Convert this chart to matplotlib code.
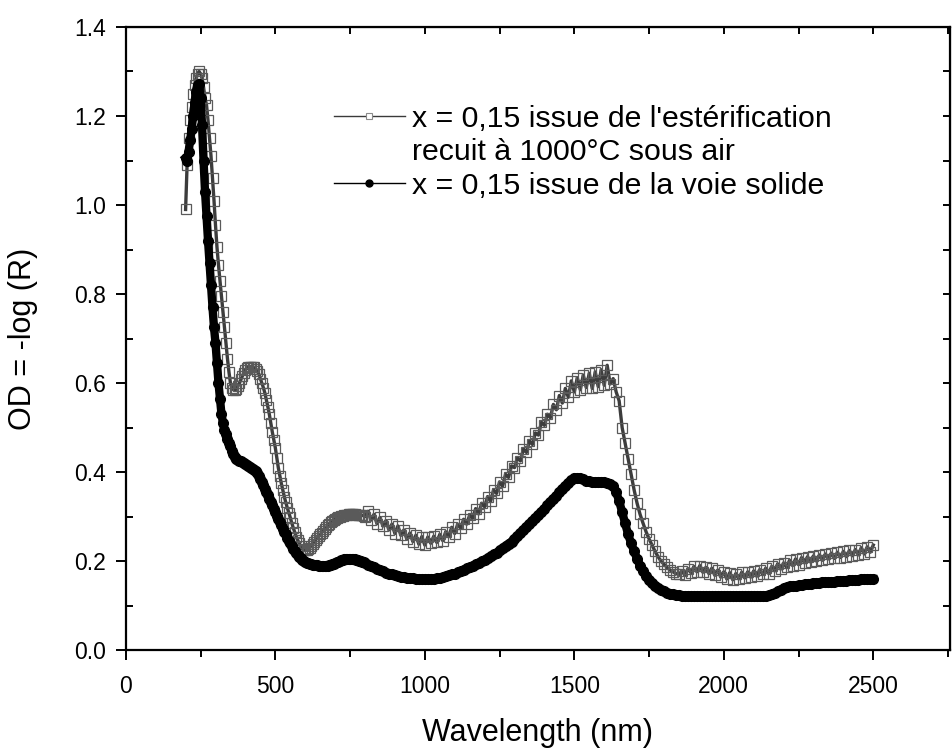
import matplotlib
matplotlib.use('Agg')
import matplotlib.pyplot as plt
from matplotlib.lines import Line2D
import numpy as np

plt.rcParams['font.family'] = ['Liberation Sans', 'DejaVu Sans']

# longueurs d'onde (nm) : pas de 5 nm jusqu'a 800, puis 10 nm
wavelength = np.concatenate([np.arange(200, 800, 5), np.arange(800, 2501, 10)])

# x = 0,15 issue de l'esterification, recuit a 1000 C sous air (carres)
od_ester = [
    0.99, 1.09, 1.15, 1.19, 1.22, 1.25, 1.27, 1.285, 1.295, 1.30,
    1.295, 1.285, 1.265, 1.24, 1.225, 1.19, 1.15, 1.11, 1.06, 1.01,
    0.955, 0.905, 0.865, 0.83, 0.795, 0.76, 0.725, 0.69, 0.655, 0.625,
    0.60, 0.59, 0.585, 0.584, 0.587, 0.593, 0.60, 0.608, 0.616, 0.623,
    0.629, 0.633, 0.636, 0.637, 0.637, 0.636, 0.635, 0.632, 0.627, 0.62,
    0.61, 0.60, 0.59, 0.578, 0.563, 0.547, 0.53, 0.51, 0.49, 0.472,
    0.455, 0.432, 0.41, 0.392, 0.375, 0.36, 0.345, 0.332, 0.32, 0.309,
    0.298, 0.286, 0.275, 0.265, 0.255, 0.247, 0.24, 0.234, 0.228, 0.225,
    0.224, 0.225, 0.227, 0.23, 0.234, 0.238, 0.243, 0.248, 0.252, 0.256,
    0.26, 0.264, 0.268, 0.272, 0.276, 0.28, 0.284, 0.287, 0.29, 0.293,
    0.295, 0.297, 0.299, 0.30, 0.301, 0.302, 0.303, 0.304, 0.304, 0.305,
    0.305, 0.305, 0.305, 0.305, 0.304, 0.304, 0.304, 0.303, 0.303, 0.302,
    # 800 - 2500 nm
    0.300, 0.312, 0.292, 0.305, 0.284, 0.298, 0.279, 0.291, 0.270, 0.283,
    0.262, 0.279, 0.258, 0.270, 0.249, 0.263, 0.244, 0.258, 0.238, 0.255,
    0.236, 0.254, 0.240, 0.256, 0.242, 0.260, 0.246, 0.266, 0.255, 0.276,
    0.262, 0.283, 0.274, 0.294, 0.283, 0.303, 0.296, 0.318, 0.306, 0.330,
    0.322, 0.345, 0.334, 0.360, 0.352, 0.378, 0.368, 0.395, 0.388, 0.414,
    0.410, 0.432, 0.425, 0.452, 0.444, 0.470, 0.462, 0.488, 0.483, 0.512,
    0.505, 0.530, 0.522, 0.552, 0.540, 0.572, 0.555, 0.588, 0.568, 0.605,
    0.580, 0.612, 0.585, 0.618, 0.590, 0.622, 0.588, 0.625, 0.592, 0.630,
    0.595, 0.640, 0.598, 0.610, 0.580, 0.560, 0.500, 0.465, 0.430, 0.395,
    0.360, 0.330, 0.305, 0.285, 0.266, 0.250, 0.236, 0.222, 0.210, 0.200,
    0.193, 0.186, 0.180, 0.176, 0.172, 0.170, 0.178, 0.168, 0.183, 0.174,
    0.188, 0.176, 0.190, 0.175, 0.186, 0.172, 0.184, 0.168, 0.180, 0.164,
    0.176, 0.160, 0.174, 0.158, 0.172, 0.160, 0.175, 0.162, 0.176, 0.164,
    0.178, 0.166, 0.181, 0.170, 0.184, 0.172, 0.188, 0.178, 0.194, 0.182,
    0.196, 0.186, 0.202, 0.190, 0.205, 0.192, 0.208, 0.196, 0.210, 0.198,
    0.212, 0.200, 0.214, 0.202, 0.216, 0.205, 0.218, 0.206, 0.220, 0.208,
    0.222, 0.210, 0.224, 0.212, 0.226, 0.214, 0.230, 0.216, 0.232, 0.220,
    0.236,
]

# x = 0,15 issue de la voie solide (ronds pleins)
od_solid = [
    1.105, 1.10, 1.12, 1.145, 1.17, 1.20, 1.23, 1.255, 1.27, 1.272,
    1.24, 1.18, 1.10, 1.03, 0.975, 0.92, 0.87, 0.82, 0.77, 0.725,
    0.69, 0.645, 0.60, 0.565, 0.53, 0.51, 0.495, 0.485, 0.475, 0.466,
    0.458, 0.448, 0.44, 0.434, 0.43, 0.427, 0.425, 0.424, 0.422, 0.42,
    0.418, 0.416, 0.414, 0.412, 0.41, 0.408, 0.405, 0.402, 0.398, 0.392,
    0.385, 0.378, 0.37, 0.362, 0.355, 0.348, 0.34, 0.332, 0.325, 0.318,
    0.31, 0.302, 0.295, 0.288, 0.28, 0.273, 0.266, 0.26, 0.253, 0.246,
    0.24, 0.234, 0.228, 0.223, 0.218, 0.214, 0.21, 0.206, 0.203, 0.2,
    0.198, 0.196, 0.195, 0.194, 0.193, 0.192, 0.192, 0.191, 0.191, 0.19,
    0.19, 0.19, 0.19, 0.19, 0.19, 0.19, 0.191, 0.192, 0.193, 0.194,
    0.196, 0.197, 0.199, 0.2, 0.202, 0.203, 0.204, 0.204, 0.205, 0.205,
    0.205, 0.205, 0.204, 0.204, 0.203, 0.202, 0.201, 0.2, 0.198, 0.197,
    # 800 - 2500 nm
    0.195, 0.192, 0.189, 0.186, 0.183, 0.18, 0.177, 0.174, 0.172, 0.17,
    0.168, 0.166, 0.165, 0.164, 0.163, 0.162, 0.161, 0.16, 0.16, 0.159,
    0.159, 0.159, 0.159, 0.16, 0.161, 0.162, 0.164, 0.166, 0.168, 0.17,
    0.172, 0.175, 0.178, 0.181, 0.184, 0.187, 0.19, 0.193, 0.196, 0.2,
    0.203, 0.207, 0.211, 0.215, 0.219, 0.224, 0.229, 0.234, 0.239, 0.244,
    0.25, 0.256, 0.263, 0.27, 0.277, 0.284, 0.29, 0.297, 0.304, 0.311,
    0.318, 0.325, 0.332, 0.34, 0.347, 0.355, 0.362, 0.369, 0.376, 0.382,
    0.386, 0.387, 0.386, 0.384, 0.381, 0.379, 0.378, 0.378, 0.378, 0.378,
    0.377, 0.376, 0.374, 0.368, 0.355, 0.335, 0.31, 0.285, 0.26, 0.24,
    0.222, 0.205, 0.19, 0.177, 0.166, 0.157, 0.15, 0.144, 0.139, 0.135,
    0.132, 0.129, 0.127, 0.125, 0.124, 0.123, 0.122, 0.122, 0.122, 0.122,
    0.122, 0.122, 0.122, 0.122, 0.122, 0.122, 0.122, 0.122, 0.122, 0.122,
    0.122, 0.122, 0.122, 0.122, 0.122, 0.122, 0.122, 0.122, 0.122, 0.122,
    0.122, 0.122, 0.122, 0.122, 0.122, 0.123, 0.125, 0.128, 0.132, 0.136,
    0.139, 0.141, 0.143, 0.144, 0.145, 0.146, 0.147, 0.148, 0.148, 0.149,
    0.15, 0.15, 0.151, 0.152, 0.152, 0.153, 0.154, 0.154, 0.155, 0.155,
    0.156, 0.156, 0.157, 0.157, 0.158, 0.158, 0.159, 0.159, 0.16, 0.16,
    0.16,
]

labels = ["x = 0,15 issue de l'estérification",
          "recuit à 1000°C sous air",
          "x = 0,15 issue de la voie solide"]

fig = plt.figure(figsize=(9.53, 7.49), dpi=100)
ax = fig.add_axes([0.132, 0.132, 0.865, 0.832])

ax.plot(wavelength, od_ester, color='#3c3c3c', lw=2.4, marker='s', ms=6.5,
        mfc='none', mec='#5a5a5a', mew=0.9, zorder=2)
ax.plot(wavelength, od_solid, color='black', lw=6, marker='o', ms=7,
        mfc='black', mec='black', zorder=3)

ax.set_xlim(0, 2757)
ax.set_ylim(0, 1.4)
ax.set_xticks(np.arange(0, 2501, 500))
ax.set_xticks(np.arange(0, 2751, 250), minor=True)
ax.set_yticks(np.arange(0, 1.41, 0.2))
ax.set_yticks(np.arange(0, 1.41, 0.1), minor=True)
ax.set_yticklabels([f'{v:.1f}' for v in np.arange(0, 1.41, 0.2)])

ax.tick_params(axis='both', which='major', labelsize=16.5, width=1.4, length=7)
ax.tick_params(axis='x', which='major', pad=11)
ax.tick_params(axis='y', which='major', pad=7)
ax.tick_params(axis='x', which='minor', direction='out', width=1.4, length=5)
ax.tick_params(axis='y', which='minor', direction='in', width=1.4, length=5)
ax.tick_params(top=False, right=False)
for sp in ax.spines.values():
    sp.set_linewidth(1.6)

top = ax.secondary_xaxis('top')
top.set_xticks(np.arange(0, 2751, 250))
top.set_xticklabels([])
top.tick_params(direction='in', length=5, width=1.4)
right = ax.secondary_yaxis('right')
right.set_yticks(np.arange(0, 1.41, 0.1))
right.set_yticklabels([])
right.tick_params(direction='in', length=5, width=1.4)

ax.set_xlabel('Wavelength (nm)', fontsize=22, labelpad=14)
ax.set_ylabel('OD = -log (R)', fontsize=22, labelpad=26)

handles = [
    Line2D([], [], color='#3a3a3a', lw=1.0, marker='s', ms=5, mfc='white',
           mec='#8a8a8a', mew=0.8),
    Line2D([], [], color='none'),
    Line2D([], [], color='black', lw=1.0, marker='o', ms=5, mfc='black',
           mec='black'),
]
ax.legend(handles, labels, loc='upper left', bbox_to_anchor=(0.252, 0.875),
          frameon=False, fontsize=21.8, handlelength=2.35, handletextpad=0.25,
          labelspacing=0.18, borderpad=0, borderaxespad=0)

fig.savefig('out.png', dpi=100)
